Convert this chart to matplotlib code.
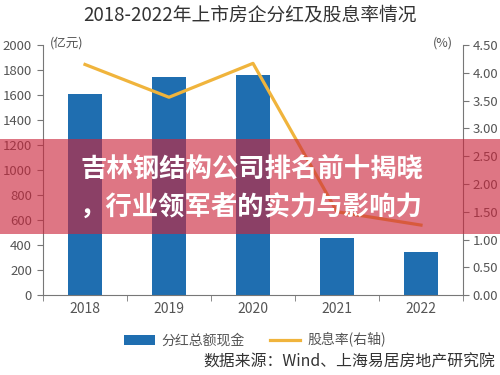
import numpy as np
import matplotlib
matplotlib.use('Agg')
import matplotlib.pyplot as plt
from matplotlib.patches import Rectangle

plt.rcParams['font.family'] = ['Noto Sans CJK SC', 'DejaVu Sans']

years = ['2018', '2019', '2020', '2021', '2022']
dividend = [1608, 1745, 1760, 455, 342]      # 亿元
yield_rate = [4.15, 3.56, 4.17, 1.50, 1.26]   # %
left_ticks = [0, 200, 400, 600, 800, 1000, 1200, 1400, 1600, 1800, 2000]
right_ticks = [0, 0.5, 1.0, 1.5, 2.0, 2.5, 3.0, 3.5, 4.0, 4.5]

bar_color = '#1f6eb0'
line_color = '#f0b43c'
axis_gray = '#777777'
text_gray = '#555555'

fig = plt.figure(figsize=(5, 3.75), dpi=100)
ax = fig.add_axes([0.086, 0.213, 0.84, 0.667])
x = np.arange(len(years))
b = ax.bar(x, dividend, width=0.4, color=bar_color, label='分红总额现金', zorder=2)
ax.set_xlim(-0.5, 4.5)
ax.set_ylim(0, 2000)
ax.set_yticks(left_ticks)
ax.set_xticks(x)
ax.set_xticklabels(years)
ax.set_xticks(np.arange(-0.5, 5, 1), minor=True)
ax.tick_params(axis='x', which='major', length=0, labelsize=10, colors=text_gray, pad=5)
ax.tick_params(axis='x', which='minor', length=4, color=axis_gray, direction='out')
ax.tick_params(axis='y', length=4, color=axis_gray, labelsize=9.5, labelcolor=text_gray, pad=4)
for s in ['top', 'right']:
    ax.spines[s].set_visible(False)
for s in ['left', 'bottom']:
    ax.spines[s].set_color(axis_gray)

ax2 = ax.twinx()
l, = ax2.plot(x, yield_rate, color=line_color, lw=2.3, label='股息率(右轴)', zorder=3)
ax2.set_ylim(0, 4.5)
ax2.set_yticks(right_ticks)
ax2.set_yticklabels(['%.2f' % t for t in right_ticks])
ax2.tick_params(axis='y', length=4, color=axis_gray, labelsize=9.5, labelcolor=text_gray, pad=3)
for s in ['top', 'left', 'bottom']:
    ax2.spines[s].set_visible(False)
ax2.spines['right'].set_color(axis_gray)

fig.text(0.1, 0.885, '(亿元)', fontsize=9, color=text_gray, ha='left', va='center')
fig.text(0.905, 0.885, '(%)', fontsize=9, color=text_gray, ha='right', va='center')

fig.text(0.5, 0.96, '2018-2022年上市房企分红及股息率情况', fontsize=13.5,
         color='#333333', ha='center', va='center')

fig.legend(handles=[b, l], loc='center', bbox_to_anchor=(0.51, 0.093), ncol=2,
           frameon=False, fontsize=10, handlelength=2.2, columnspacing=1.8,
           labelcolor=text_gray, handletextpad=0.5)

fig.text(0.99, 0.035, '数据来源：Wind、上海易居房地产研究院', fontsize=11.4,
         color='#333333', ha='right', va='center')

# overlay banner
fig.patches.append(Rectangle((0, 0.376), 1, 0.253, transform=fig.transFigure,
                             facecolor='#cb263c', alpha=0.63, edgecolor='none', zorder=10))
fig.text(0.503, 0.547, '吉林钢结构公司排名前十揭晓', fontsize=19, fontweight='bold',
         color='white', ha='center', va='center', zorder=11)
fig.text(0.503, 0.445, '，行业领军者的实力与影响力', fontsize=19, fontweight='bold',
         color='white', ha='center', va='center', zorder=11)

fig.savefig('out.png', dpi=100)
